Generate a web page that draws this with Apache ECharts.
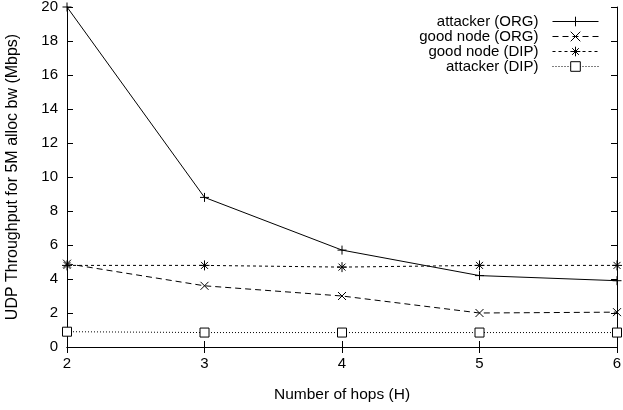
<!DOCTYPE html>
<html>
<head>
<meta charset="utf-8">
<script src="https://cdn.jsdelivr.net/npm/echarts@6/dist/echarts.min.js"></script>
<style>
html,body{margin:0;padding:0;background:#fff;}
#chart{width:623px;height:410px;}
</style>
</head>
<body>
<div id="chart"></div>
<script>
const hops = [2, 3, 4, 5, 6];
const attackerORG = [20, 8.8, 5.7, 4.2, 3.9];
const goodORG = [4.9, 3.6, 3.0, 2.0, 2.05];
const goodDIP = [4.8, 4.8, 4.7, 4.8, 4.8];
const attackerDIP = [0.9, 0.85, 0.85, 0.85, 0.85];
const seriesNames = ['attacker (ORG)', 'good node (ORG)', 'good node (DIP)', 'attacker (DIP)'];
const yTicks = [0, 2, 4, 6, 8, 10, 12, 14, 16, 18, 20];
const xLabel = 'Number of hops (H)';
const yLabel = 'UDP Throughput for 5M alloc bw (Mbps)';

const FONT = '"Liberation Sans", Arial, Helvetica, sans-serif';
const pairs = vals => hops.map((h, i) => [h, vals[i]]);

const symPlus = 'path://M0,5L10,5M5,0L5,10';
const symCross = 'path://M0,0L10,10M10,0L0,10';
const symStar = 'path://M0,5L10,5M5,0L5,10M1.5,1.5L8.5,8.5M8.5,1.5L1.5,8.5';

function mk(name, vals, symbol, size, dash) {
  return {
    name: name,
    type: 'line',
    data: pairs(vals),
    symbol: symbol,
    symbolSize: size,
    showAllSymbol: true,
    xAxisIndex: 0, yAxisIndex: 0,
    color: '#000',
    lineStyle: {color: '#000', width: 1, type: dash},
    itemStyle: {color: '#fff', borderColor: '#000', borderWidth: 1},
    emphasis: {disabled: true},
    animation: false,
    z: 3
  };
}

const axisLineStyle = {show: true, lineStyle: {color: '#000', width: 1}};
const tickStyle = {show: true, inside: true, length: 6, lineStyle: {color: '#000', width: 1}};

const chart = echarts.init(document.getElementById('chart'), null, {renderer: 'canvas'});
chart.setOption({
  animation: false,
  backgroundColor: '#fff',
  textStyle: {fontFamily: FONT},
  grid: {left: 67, right: 6, top: 7, bottom: 63, containLabel: false, outerBoundsMode: 'none'},
  legend: {
    orient: 'vertical',
    right: 24,
    top: 14,
    padding: 0,
    align: 'right',
    itemWidth: 46,
    itemHeight: 12,
    itemGap: 0,
    data: seriesNames,
    lineStyle: {width: 1},
    itemStyle: {color: '#fff', borderColor: '#000', borderWidth: 1},
    textStyle: {fontFamily: FONT, fontSize: 15, lineHeight: 15, color: '#000', padding: [0, 9, 0, 0]},
    selectedMode: false
  },
  xAxis: [
    {
      type: 'value', min: hops[0], max: hops[hops.length - 1], interval: 1,
      position: 'bottom',
      name: xLabel, nameLocation: 'middle', nameGap: 40,
      nameTextStyle: {fontFamily: FONT, fontSize: 15.5, color: '#000'},
      axisLine: axisLineStyle, axisTick: tickStyle,
      axisLabel: {fontFamily: FONT, fontSize: 15, color: '#000', margin: 9},
      splitLine: {show: false}
    },
    {
      type: 'value', min: hops[0], max: hops[hops.length - 1], interval: 1,
      position: 'top',
      axisLine: axisLineStyle, axisTick: tickStyle,
      axisLabel: {show: false}, splitLine: {show: false}
    }
  ],
  yAxis: [
    {
      type: 'value', min: yTicks[0], max: yTicks[yTicks.length - 1], interval: 2,
      position: 'left',
      name: yLabel, nameLocation: 'middle', nameGap: 46, nameRotate: 90,
      nameTextStyle: {fontFamily: FONT, fontSize: 16, color: '#000'},
      axisLine: axisLineStyle, axisTick: tickStyle,
      axisLabel: {fontFamily: FONT, fontSize: 15, color: '#000', margin: 9},
      splitLine: {show: false}
    },
    {
      type: 'value', min: yTicks[0], max: yTicks[yTicks.length - 1], interval: 2,
      position: 'right',
      axisLine: axisLineStyle, axisTick: tickStyle,
      axisLabel: {show: false}, splitLine: {show: false}
    }
  ],
  series: [
    mk(seriesNames[0], attackerORG, symPlus, 9, 'solid'),
    mk(seriesNames[1], goodORG, symCross, 8, [6, 4]),
    mk(seriesNames[2], goodDIP, symStar, 10, [3, 3]),
    mk(seriesNames[3], attackerDIP, 'rect', 9, [1, 2])
  ]
});
</script>
</body>
</html>
